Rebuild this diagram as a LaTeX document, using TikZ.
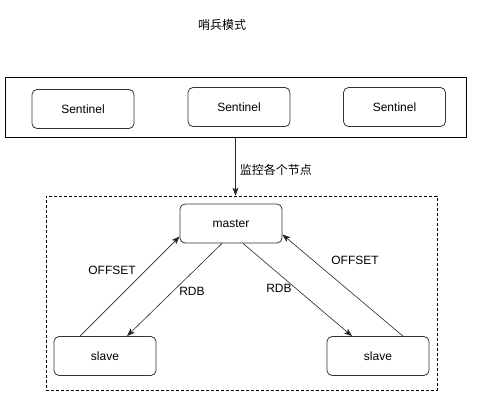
\documentclass[tikz,border=0pt]{standalone}
\usepackage{fontspec}
\setmainfont{Liberation Sans}
\newfontfamily\cjk{Noto Sans CJK SC}
\usetikzlibrary{arrows.meta}

\begin{document}
\begin{tikzpicture}[x=1pt,y=-1pt,
    box/.style={draw=black!80,line width=0.8pt,rounded corners=5pt,minimum width=102pt,minimum height=39pt,inner sep=0pt,font=\fontsize{12}{14}\selectfont},
    txt/.style={inner sep=1pt,font=\fontsize{12}{14}\selectfont},
    link/.style={draw=black!85,line width=0.6pt,-{Stealth[length=8pt,width=6pt,inset=2pt]}}]
  \useasboundingbox (0,0) rectangle (487,402);

  \node[txt] (title) at (222,25) {\cjk 哨兵模式};

  % sentinel group
  \node[draw,line width=0.8pt,minimum width=461pt,minimum height=60pt,inner sep=0pt] (sentinels) at (235.5,107) {};
  \node[box] (sent1) at (83,109) {Sentinel};
  \node[box] (sent2) at (239,107) {Sentinel};
  \node[box] (sent3) at (394.5,107) {Sentinel};

  % replication group
  \node[draw,dash pattern=on 3pt off 2pt,line width=0.6pt,minimum width=391pt,minimum height=194pt,inner sep=0pt] (group) at (241.5,293) {};
  \node[box] (master) at (231,223.5) {master};
  \node[box] (slaveL) at (105,356) {slave};
  \node[box] (slaveR) at (378,356) {slave};

  \draw[link] (sentinels.south) -- (sentinels.south |- group.north)
      node[midway,right,txt,xshift=3pt,yshift=-3pt] (watch) {\cjk 监控各个节点};

  \draw[link] ([xshift=-25pt]slaveL.north) -- ([yshift=-13pt]master.west);
  \draw[link] ([xshift=-9pt]master.south) -- ([xshift=22pt]slaveL.north);
  \draw[link] ([xshift=12pt]master.south) -- ([xshift=-26pt]slaveR.north);
  \draw[link] ([xshift=25pt]slaveR.north) -- ([yshift=-11pt]master.east);

  \node[txt] (offL) at (112,270) {OFFSET};
  \node[txt] (rdbL) at (192,291) {RDB};
  \node[txt] (rdbR) at (279,288) {RDB};
  \node[txt] (offR) at (355,260) {OFFSET};
\end{tikzpicture}
\end{document}
